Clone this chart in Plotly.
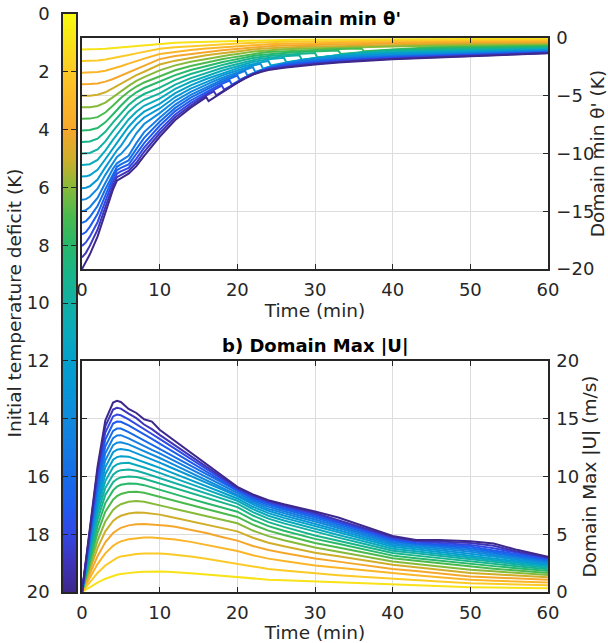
import numpy as np
import plotly.graph_objects as go
from plotly.colors import sample_colorscale

# ---------------- data ----------------
deficits = list(range(1, 21))
x_ticks = [0, 10, 20, 30, 40, 50, 60]
theta_ticks = [-20, -15, -10, -5, 0]
u_ticks = [0, 5, 10, 15, 20]
cbar_ticks = [0, 2, 4, 6, 8, 10, 12, 14, 16, 18, 20]

# panel a: domain minimum theta' (K)
t_a = [0, 0.5, 1, 2, 3, 4, 4.5, 5, 6, 7, 8, 10, 12, 14, 16, 17, 18, 19, 20, 21, 22, 23, 24,
       26, 28, 30, 33, 36, 40, 45, 50, 55, 60]
theta_d01 = [-1.0, -1.0, -0.99, -0.96, -0.92, -0.86, -0.83, -0.8, -0.72, -0.65, -0.59, -0.48, -0.41, -0.36, -0.32, -0.3, -0.28, -0.27, -0.25, -0.23, -0.21, -0.2, -0.18, -0.17, -0.16, -0.15, -0.13, -0.12, -0.11, -0.1, -0.09, -0.085, -0.08]
theta_d02 = [-2, -2, -1.99, -1.95, -1.87, -1.76, -1.7, -1.63, -1.48, -1.33, -1.2, -0.93, -0.8, -0.7, -0.62, -0.58, -0.54, -0.51, -0.48, -0.44, -0.41, -0.38, -0.36, -0.33, -0.31, -0.3, -0.28, -0.26, -0.24, -0.22, -0.2, -0.19, -0.18]
theta_d03 = [-3, -3, -2.99, -2.94, -2.83, -2.66, -2.56, -2.45, -2.22, -1.99, -1.79, -1.38, -1.18, -1.03, -0.91, -0.86, -0.8, -0.76, -0.71, -0.65, -0.61, -0.57, -0.54, -0.5, -0.47, -0.45, -0.41, -0.38, -0.36, -0.33, -0.31, -0.29, -0.28]
theta_d04 = [-4, -4, -3.99, -3.93, -3.78, -3.55, -3.41, -3.26, -2.95, -2.66, -2.39, -1.83, -1.56, -1.37, -1.21, -1.14, -1.06, -1.0, -0.94, -0.87, -0.8, -0.76, -0.72, -0.66, -0.63, -0.6, -0.55, -0.52, -0.48, -0.45, -0.42, -0.4, -0.38]
theta_d05 = [-5, -5, -4.99, -4.91, -4.7, -4.35, -4.15, -3.95, -3.58, -3.22, -2.92, -2.3, -1.96, -1.71, -1.5, -1.41, -1.32, -1.24, -1.16, -1.07, -1.0, -0.94, -0.89, -0.83, -0.78, -0.75, -0.69, -0.65, -0.61, -0.57, -0.53, -0.5, -0.48]
theta_d06 = [-6, -6, -5.99, -5.89, -5.6, -5.12, -4.86, -4.6, -4.14, -3.72, -3.38, -2.8, -2.37, -2.06, -1.81, -1.69, -1.58, -1.48, -1.38, -1.27, -1.18, -1.12, -1.06, -0.98, -0.93, -0.89, -0.83, -0.78, -0.73, -0.68, -0.64, -0.61, -0.58]
theta_d07 = [-7, -7, -6.98, -6.85, -6.45, -5.85, -5.52, -5.2, -4.65, -4.2, -3.85, -3.3, -2.79, -2.42, -2.11, -1.97, -1.84, -1.72, -1.6, -1.47, -1.37, -1.29, -1.22, -1.14, -1.08, -1.03, -0.96, -0.9, -0.98, -0.8, -0.75, -0.71, -0.67]
theta_d08 = [-8, -8, -7.97, -7.8, -7.3, -6.6, -6.22, -5.87, -5.2, -4.7, -4.33, -3.8, -3.21, -2.77, -2.41, -2.26, -2.1, -1.96, -1.82, -1.68, -1.56, -1.47, -1.39, -1.29, -1.22, -1.17, -1.09, -1.22, -1.01, -0.9, -0.85, -0.8, -0.75]
theta_d09 = [-9, -9, -8.96, -8.72, -8.12, -7.3, -6.9, -6.52, -5.8, -5.25, -4.85, -4.3, -3.62, -3.12, -2.71, -2.53, -2.35, -2.19, -2.03, -1.87, -1.74, -1.64, -1.55, -1.44, -1.36, -1.3, -1.48, -1.25, -1.07, -1.0, -0.94, -0.88, -0.83]
theta_d10 = [-10, -10, -9.95, -9.65, -8.95, -8.05, -7.62, -7.2, -6.4, -5.8, -5.35, -4.8, -4.03, -3.47, -3.01, -2.8, -2.6, -2.42, -2.24, -2.06, -1.92, -1.8, -1.71, -1.58, -1.5, -1.74, -1.49, -1.26, -1.17, -1.09, -1.02, -0.96, -0.9]
theta_d11 = [-11, -10.99, -10.93, -10.55, -9.75, -8.8, -8.35, -7.9, -7.05, -6.38, -5.87, -5.25, -4.41, -3.79, -3.28, -3.06, -2.83, -2.64, -2.44, -2.24, -2.08, -1.96, -1.85, -1.72, -1.93, -1.75, -1.5, -1.35, -1.26, -1.18, -1.1, -1.03, -0.96]
theta_d12 = [-12, -11.98, -11.89, -11.42, -10.5, -9.5, -9.05, -8.6, -7.68, -6.95, -6.38, -5.7, -4.78, -4.1, -3.55, -3.31, -3.06, -2.85, -2.63, -2.42, -2.24, -2.11, -1.99, -2.16, -1.95, -1.76, -1.54, -1.44, -1.35, -1.26, -1.17, -1.1, -1.02]
theta_d13 = [-13, -12.97, -12.84, -12.25, -11.2, -10.15, -9.72, -9.35, -8.35, -7.52, -6.88, -6.1, -5.11, -4.38, -3.79, -3.53, -3.26, -3.03, -2.8, -2.57, -2.38, -2.24, -2.51, -2.21, -1.96, -1.77, -1.63, -1.53, -1.43, -1.33, -1.24, -1.16, -1.07]
theta_d14 = [-14, -13.95, -13.75, -13.05, -11.85, -10.75, -10.3, -10.05, -9.3, -8.25, -7.45, -6.5, -5.44, -4.66, -4.02, -3.74, -3.46, -3.21, -2.96, -2.72, -2.52, -2.77, -2.55, -2.24, -1.97, -1.86, -1.72, -1.61, -1.51, -1.4, -1.3, -1.21, -1.12]
theta_d15 = [-15, -14.9, -14.65, -13.85, -12.55, -11.3, -10.85, -10.65, -10.2, -9.1, -8.15, -6.9, -5.76, -4.93, -4.25, -3.94, -3.64, -3.38, -3.11, -2.85, -3.05, -2.8, -2.59, -2.27, -2.04, -1.95, -1.8, -1.69, -1.57, -1.46, -1.35, -1.25, -1.16]
theta_d16 = [-16, -15.85, -15.5, -14.55, -13.1, -11.7, -11.15, -10.95, -10.6, -9.6, -8.65, -7.25, -6.05, -5.17, -4.45, -4.13, -3.81, -3.53, -3.25, -3.38, -3.08, -2.84, -2.61, -2.28, -2.13, -2.03, -1.87, -1.75, -1.63, -1.51, -1.4, -1.3, -1.2]
theta_d17 = [-17, -16.8, -16.35, -15.25, -13.65, -12.05, -11.45, -11.25, -10.95, -10.05, -9.1, -7.6, -6.33, -5.41, -4.65, -4.31, -3.97, -3.68, -3.78, -3.42, -3.12, -2.86, -2.64, -2.35, -2.21, -2.11, -1.95, -1.82, -1.69, -1.57, -1.45, -1.34, -1.24]
theta_d18 = [-18, -17.7, -17.2, -15.95, -14.15, -12.4, -11.75, -11.55, -11.25, -10.45, -9.5, -7.95, -6.62, -5.64, -4.84, -4.48, -4.12, -4.21, -3.82, -3.46, -3.14, -2.89, -2.65, -2.43, -2.29, -2.18, -2.0, -1.87, -1.74, -1.61, -1.49, -1.38, -1.27]
theta_d19 = [-19, -18.6, -18.0, -16.6, -14.65, -12.75, -12.05, -11.85, -11.5, -10.8, -9.85, -8.25, -6.86, -5.84, -4.97, -4.63, -4.66, -4.25, -3.86, -3.48, -3.16, -2.89, -2.71, -2.5, -2.35, -2.24, -2.06, -1.92, -1.79, -1.66, -1.53, -1.42, -1.3]
theta_d20 = [-20, -19.4, -18.75, -17.2, -15.1, -13.1, -12.35, -12.15, -11.75, -11.1, -10.2, -8.55, -7.1, -6.03, -5.12, -5.17, -4.7, -4.29, -3.87, -3.49, -3.16, -2.94, -2.78, -2.57, -2.41, -2.3, -2.12, -1.98, -1.84, -1.7, -1.57, -1.45, -1.33]

# sudden drops of theta' (one extra low sample per curve, recovery is in the arrays above)
drop_deficit = [20, 19, 18, 17, 16, 15, 14, 13, 12, 11, 10, 9, 8, 7]
drop_time = [16.3, 17.3, 18.3, 19.3, 20.3, 21.3, 22.3, 23.3, 24.3, 26.3, 28.3, 30.3, 33.3, 36.3]
drop_theta = [-5.47, -4.97, -4.48, -4.04, -3.62, -3.24, -2.93, -2.65, -2.37, -2.1, -1.89, -1.69, -1.38, -1.15]

# panel b: domain maximum |U| (m/s)
t_b = [0, 1, 2, 3, 4, 4.5, 5, 6, 7, 8, 9, 10, 11, 12, 14, 16, 18, 20, 22, 24, 26, 28, 30,
       33, 36, 40, 43, 46, 50, 53, 56, 60]
umax_d01 = [0, 0.42, 0.82, 1.15, 1.4, 1.49, 1.56, 1.66, 1.72, 1.76, 1.78, 1.78, 1.75, 1.72, 1.63, 1.51, 1.39, 1.27, 1.16, 1.07, 1.01, 0.96, 0.9, 0.82, 0.73, 0.62, 0.56, 0.5, 0.42, 0.39, 0.36, 0.32]
umax_d02 = [0, 0.85, 1.65, 2.3, 2.78, 2.95, 3.08, 3.22, 3.3, 3.34, 3.35, 3.33, 3.29, 3.22, 3.07, 2.87, 2.66, 2.45, 2.2, 2.0, 1.86, 1.73, 1.6, 1.46, 1.31, 1.12, 1.01, 0.9, 0.75, 0.7, 0.65, 0.58]
umax_d03 = [0, 1.25, 2.42, 3.35, 4.0, 4.22, 4.38, 4.57, 4.67, 4.71, 4.72, 4.68, 4.62, 4.54, 4.34, 4.09, 3.82, 3.55, 3.18, 2.89, 2.68, 2.49, 2.3, 2.09, 1.88, 1.6, 1.44, 1.27, 1.05, 0.98, 0.91, 0.82]
umax_d04 = [0, 1.6, 3.1, 4.3, 5.1, 5.35, 5.55, 5.77, 5.86, 5.88, 5.85, 5.8, 5.73, 5.64, 5.4, 5.1, 4.77, 4.45, 3.99, 3.63, 3.37, 3.13, 2.9, 2.63, 2.36, 2.0, 1.81, 1.61, 1.35, 1.26, 1.17, 1.05]
umax_d05 = [0, 1.95, 3.8, 5.25, 6.15, 6.42, 6.6, 6.8, 6.88, 6.86, 6.8, 6.7, 6.56, 6.41, 6.12, 5.83, 5.54, 5.25, 4.7, 4.27, 3.96, 3.68, 3.4, 3.09, 2.77, 2.35, 2.14, 1.93, 1.65, 1.54, 1.42, 1.27]
umax_d06 = [0, 2.3, 4.45, 6.1, 7.1, 7.4, 7.6, 7.82, 7.88, 7.82, 7.68, 7.5, 7.35, 7.19, 6.88, 6.57, 6.26, 5.95, 5.32, 4.84, 4.48, 4.17, 3.85, 3.49, 3.13, 2.65, 2.43, 2.21, 1.92, 1.79, 1.65, 1.47]
umax_d07 = [0, 2.65, 5.1, 6.95, 8.0, 8.3, 8.48, 8.65, 8.68, 8.6, 8.42, 8.2, 8.03, 7.86, 7.52, 7.18, 6.84, 6.5, 5.83, 5.31, 4.93, 4.59, 4.25, 3.85, 3.45, 2.92, 2.7, 2.48, 2.18, 2.02, 1.86, 1.65]
umax_d08 = [0, 2.95, 5.7, 7.7, 8.8, 9.12, 9.28, 9.4, 9.38, 9.25, 9.05, 8.8, 8.62, 8.43, 8.06, 7.69, 7.32, 6.95, 6.25, 5.7, 5.31, 4.95, 4.6, 4.17, 3.73, 3.15, 2.93, 2.71, 2.42, 2.24, 2.06, 1.82]
umax_d09 = [0, 3.25, 6.25, 8.4, 9.5, 9.78, 9.92, 10.0, 9.95, 9.8, 9.6, 9.35, 9.15, 8.95, 8.55, 8.15, 7.75, 7.35, 6.62, 6.05, 5.64, 5.27, 4.9, 4.44, 3.98, 3.37, 3.15, 2.93, 2.63, 2.43, 2.23, 1.97]
umax_d10 = [0, 3.5, 6.75, 9.0, 10.15, 10.42, 10.55, 10.6, 10.5, 10.3, 10.08, 9.85, 9.63, 9.41, 8.97, 8.53, 8.09, 7.65, 6.92, 6.35, 5.94, 5.57, 5.2, 4.71, 4.22, 3.57, 3.35, 3.12, 2.82, 2.6, 2.39, 2.1]
umax_d11 = [0, 3.75, 7.2, 9.6, 10.8, 11.05, 11.15, 11.18, 11.0, 10.78, 10.55, 10.3, 10.06, 9.82, 9.34, 8.86, 8.38, 7.9, 7.17, 6.6, 6.19, 5.82, 5.45, 4.94, 4.43, 3.75, 3.53, 3.3, 3.0, 2.77, 2.53, 2.22]
umax_d12 = [0, 4.0, 7.65, 10.2, 11.45, 11.68, 11.76, 11.72, 11.5, 11.25, 11.0, 10.75, 10.49, 10.22, 9.69, 9.16, 8.63, 8.1, 7.38, 6.83, 6.42, 6.06, 5.7, 5.17, 4.63, 3.92, 3.7, 3.47, 3.17, 2.92, 2.67, 2.34]
umax_d13 = [0, 4.2, 8.1, 10.8, 12.1, 12.32, 12.38, 12.28, 12.02, 11.75, 11.48, 11.2, 10.91, 10.62, 10.04, 9.46, 8.88, 8.3, 7.58, 7.03, 6.62, 6.26, 5.9, 5.35, 4.8, 4.07, 3.85, 3.63, 3.33, 3.07, 2.8, 2.45]
umax_d14 = [0, 4.45, 8.55, 11.4, 12.72, 12.93, 12.97, 12.78, 12.5, 12.2, 11.9, 11.6, 11.29, 10.97, 10.34, 9.71, 9.08, 8.45, 7.75, 7.2, 6.81, 6.45, 6.1, 5.53, 4.96, 4.2, 3.98, 3.77, 3.48, 3.2, 2.92, 2.55]
umax_d15 = [0, 4.65, 9.0, 12.0, 13.32, 13.55, 13.58, 13.3, 12.95, 12.6, 12.3, 12.0, 11.66, 11.32, 10.64, 9.96, 9.28, 8.6, 7.9, 7.37, 6.98, 6.63, 6.28, 5.7, 5.11, 4.33, 4.12, 3.91, 3.63, 3.34, 3.04, 2.65]
umax_d16 = [0, 4.85, 9.4, 12.6, 13.95, 14.15, 14.15, 13.85, 13.5, 13.1, 12.75, 12.4, 12.03, 11.66, 10.93, 10.19, 9.46, 8.72, 8.04, 7.52, 7.13, 6.79, 6.45, 5.85, 5.25, 4.45, 4.2, 4.02, 3.78, 3.47, 3.16, 2.74]
umax_d17 = [0, 5.05, 9.8, 13.2, 14.58, 14.76, 14.74, 14.42, 14.05, 13.65, 13.25, 12.85, 12.45, 12.05, 11.24, 10.44, 9.63, 8.83, 8.16, 7.65, 7.27, 6.93, 6.6, 5.99, 5.38, 4.56, 4.25, 4.12, 3.93, 3.6, 3.27, 2.83]
umax_d18 = [0, 5.25, 10.2, 13.8, 15.2, 15.36, 15.3, 14.95, 14.55, 14.1, 13.68, 13.25, 12.82, 12.39, 11.52, 10.66, 9.79, 8.93, 8.27, 7.76, 7.39, 7.06, 6.73, 6.11, 5.49, 4.66, 4.37, 4.25, 4.08, 3.78, 3.38, 2.91]
umax_d19 = [0, 5.4, 10.55, 14.35, 15.8, 15.95, 15.88, 15.45, 15.05, 14.5, 14.1, 13.6, 13.14, 12.68, 11.77, 10.85, 9.94, 9.02, 8.37, 7.87, 7.5, 7.18, 6.85, 6.22, 5.6, 4.76, 4.42, 4.38, 4.24, 4.0, 3.5, 2.98]
umax_d20 = [0, 5.5, 10.85, 14.85, 16.4, 16.55, 16.45, 15.85, 15.5, 14.95, 14.75, 14.05, 13.56, 13.06, 12.07, 11.08, 10.09, 9.1, 8.45, 7.95, 7.6, 7.3, 6.97, 6.45, 5.75, 4.85, 4.5, 4.5, 4.4, 4.2, 3.65, 3.05]

theta_series = [theta_d01, theta_d02, theta_d03, theta_d04, theta_d05, theta_d06, theta_d07,
                theta_d08, theta_d09, theta_d10, theta_d11, theta_d12, theta_d13, theta_d14,
                theta_d15, theta_d16, theta_d17, theta_d18, theta_d19, theta_d20]
umax_series = [umax_d01, umax_d02, umax_d03, umax_d04, umax_d05, umax_d06, umax_d07,
               umax_d08, umax_d09, umax_d10, umax_d11, umax_d12, umax_d13, umax_d14,
               umax_d15, umax_d16, umax_d17, umax_d18, umax_d19, umax_d20]

# ---------------- style ----------------
CMAP = [
    [0.00, "rgb(62,40,140)"], [0.05, "rgb(62,52,185)"], [0.10, "rgb(50,72,228)"],
    [0.15, "rgb(30,92,238)"], [0.20, "rgb(22,108,232)"], [0.25, "rgb(20,124,226)"],
    [0.30, "rgb(16,138,220)"], [0.35, "rgb(8,150,214)"], [0.40, "rgb(4,160,204)"],
    [0.45, "rgb(10,170,188)"], [0.50, "rgb(18,176,164)"], [0.55, "rgb(24,181,138)"],
    [0.60, "rgb(40,184,105)"], [0.65, "rgb(75,186,78)"], [0.70, "rgb(135,186,58)"],
    [0.75, "rgb(208,174,42)"], [0.80, "rgb(245,167,44)"], [0.85, "rgb(250,182,40)"],
    [0.90, "rgb(252,202,38)"], [0.95, "rgb(248,226,24)"], [1.00, "rgb(249,251,14)"],
]
CMAX = 20.0

W, H = 608, 643
FONT = "DejaVu Sans"
TXT = "#262626"
GRID = "#dcdcdc"


def fx(p):
    return p / W


def fy(p):
    return 1 - p / H


PLOT_X = [fx(82), fx(548)]
A_Y = [fy(269), fy(38)]
B_Y = [fy(592), fy(361)]
CB_X = [fx(63), fx(76)]
CB_Y = [fy(592), fy(14)]

fig = go.Figure()

for d, ys in zip(deficits, theta_series):
    col = sample_colorscale(CMAP, [1 - d / CMAX])[0]
    xs, yv = list(t_a), list(ys)
    if d in drop_deficit:
        k = drop_deficit.index(d)
        pts = sorted(zip(xs + [drop_time[k]], yv + [drop_theta[k]]))
        xs, yv = [p[0] for p in pts], [p[1] for p in pts]
    fig.add_trace(go.Scatter(x=xs, y=yv, mode="lines", line=dict(color=col, width=2.0),
                             xaxis="x", yaxis="y", showlegend=False, hoverinfo="skip"))
for d, ys in zip(deficits, umax_series):
    col = sample_colorscale(CMAP, [1 - d / CMAX])[0]
    fig.add_trace(go.Scatter(x=t_b, y=ys, mode="lines", line=dict(color=col, width=2.0),
                             xaxis="x2", yaxis="y2", showlegend=False, hoverinfo="skip"))

levels = np.linspace(0, CMAX, 401)
fig.add_trace(go.Heatmap(z=[[v] for v in levels], y=levels, x0=0.5, dx=1,
                         colorscale=CMAP, reversescale=True, zmin=0, zmax=CMAX,
                         showscale=False, hoverinfo="skip", xaxis="x3", yaxis="y3"))

axis_common = dict(showline=True, linecolor=TXT, linewidth=1.5, mirror="ticks",
                   ticks="inside", ticklen=5, tickwidth=1, tickcolor=TXT, automargin=False,
                   zeroline=False, tickfont=dict(family=FONT, size=18, color=TXT))
TITLE_FONT = dict(family=FONT, size=18.5, color=TXT)

fig.update_layout(
    width=W, height=H, margin=dict(l=0, r=0, t=0, b=0, pad=0),
    paper_bgcolor="white", plot_bgcolor="white",
    font=dict(family=FONT, size=18, color=TXT),
    xaxis=dict(domain=PLOT_X, anchor="y", range=[0, 60], tickvals=x_ticks,
               showgrid=True, gridcolor=GRID, gridwidth=1, ticklabelstandoff=4,
               title=dict(text="Time (min)", font=TITLE_FONT, standoff=0), **axis_common),
    yaxis=dict(domain=A_Y, anchor="x", range=[-20, 0], tickvals=theta_ticks, side="right",
               showgrid=True, gridcolor=GRID, gridwidth=1, ticklabelstandoff=3,
               title=dict(text="Domain min θ' (K)", font=TITLE_FONT, standoff=2), **axis_common),
    xaxis2=dict(domain=PLOT_X, anchor="y2", range=[0, 60], tickvals=x_ticks,
                showgrid=True, gridcolor=GRID, gridwidth=1, ticklabelstandoff=4,
                title=dict(text="Time (min)", font=TITLE_FONT, standoff=0), **axis_common),
    yaxis2=dict(domain=B_Y, anchor="x2", range=[0, 20], tickvals=u_ticks, side="right",
                showgrid=True, gridcolor=GRID, gridwidth=1, ticklabelstandoff=3,
                title=dict(text="Domain Max |U| (m/s)", font=TITLE_FONT, standoff=2), **axis_common),
    xaxis3=dict(domain=CB_X, anchor="y3", range=[0, 1], showticklabels=False, ticks="",
                showline=True, linecolor=TXT, linewidth=1.5, mirror=True, showgrid=False,
                zeroline=False, automargin=False),
    yaxis3=dict(domain=CB_Y, anchor="x3", range=[CMAX, 0], tickvals=cbar_ticks, side="left",
                showgrid=False, ticklabelstandoff=8,
                title=dict(text="Initial temperature deficit (K)", font=TITLE_FONT, standoff=0),
                **axis_common),
    annotations=[
        dict(text="<b>a) Domain min θ'</b>", x=(PLOT_X[0] + PLOT_X[1]) / 2, y=fy(18),
             xref="paper", yref="paper", showarrow=False, xanchor="center", yanchor="middle",
             font=dict(family=FONT, size=18, color="black")),
        dict(text="<b>b) Domain Max |U|</b>", x=(PLOT_X[0] + PLOT_X[1]) / 2, y=fy(345),
             xref="paper", yref="paper", showarrow=False, xanchor="center", yanchor="middle",
             font=dict(family=FONT, size=18, color="black")),
    ],
)

fig.write_html("out.html")
